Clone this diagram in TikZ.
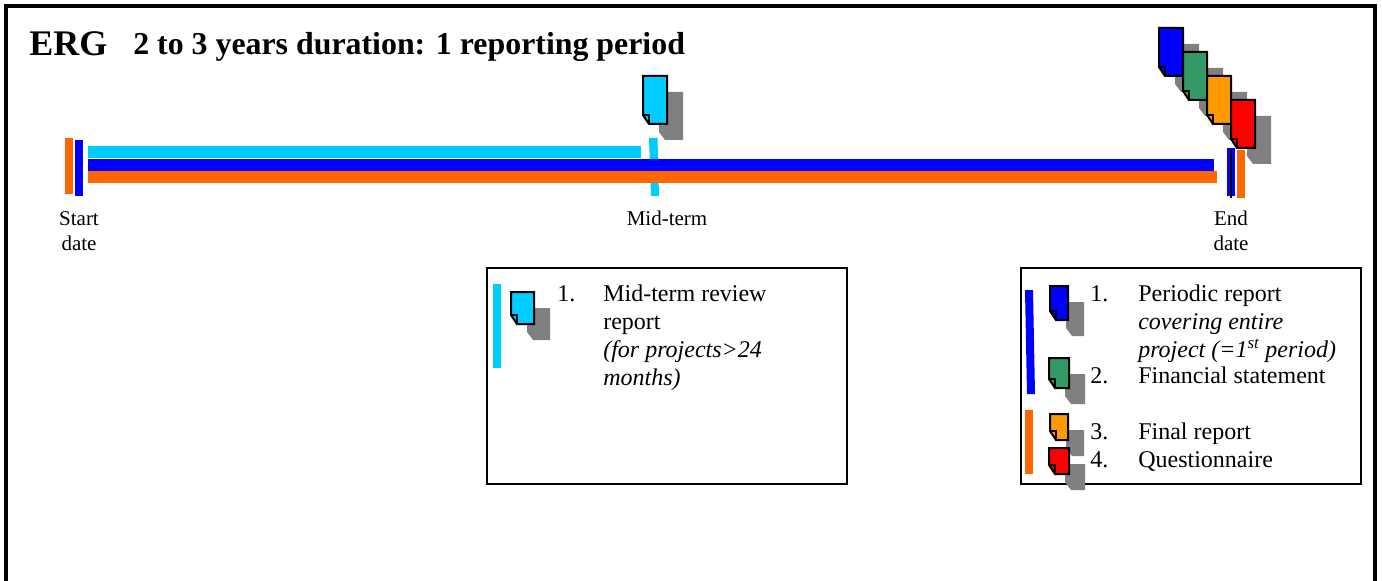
\documentclass[tikz,border=0pt]{standalone}
\usepackage{fontspec}
\setmainfont{Liberation Serif}
\definecolor{cyanbar}{HTML}{00CCFF}
\definecolor{bluebar}{HTML}{0000FF}
\definecolor{orangebar}{HTML}{FF6600}
\definecolor{docgreen}{HTML}{339966}
\definecolor{docorange}{HTML}{FF9900}
\definecolor{docred}{HTML}{FF0000}
\definecolor{docshadow}{HTML}{808080}
% icon: x, y, x2, y2, colour (px coordinates); shadow offset 16,16
\newcommand{\docicon}[5]{%
  \fill[docshadow] ({#1+16},{#2+16}) -- ({#3+16},{#2+16}) -- ({#3+16},{#4+16}) -- ({#1+22},{#4+16}) -- ({#1+16},{#4+8}) -- cycle;
  \docfront{#1}{#2}{#3}{#4}{#5}}
\newcommand{\docfront}[5]{%
  \filldraw[fill=#5,draw=black,line width=1.5pt,line join=miter] (#1,#2) -- (#3,#2) -- (#3,#4) -- ({#1+6},#4) -- (#1,{#4-9}) -- cycle;
  \draw[black,line width=1pt] (#1,{#4-9}) -- ({#1+6},{#4-9}) -- ({#1+6},#4);}
\newcommand{\barrect}[5]{\fill[#5] (#1,#2) rectangle (#3,#4);}
\tikzset{
  lab/.style={inner sep=0pt,anchor=base west,font=\fontsize{18}{18}\selectfont},
  datelab/.style={inner sep=0pt,align=center,font=\fontsize{15.75}{19}\selectfont},
  framebox/.style={draw=black,line width=1.5pt,fill=white,inner sep=0pt,outer sep=0pt,anchor=north west}
}
\begin{document}
\begin{tikzpicture}[x=0.75pt,y=-0.75pt]
\useasboundingbox (0,0) rectangle (1382,581);
\fill[white] (0,0) rectangle (1382,581);
\draw[black,line width=3pt] (6,6) rectangle (1375,600);
\node[inner sep=0pt,anchor=base west,font=\fontsize{27}{27}\selectfont\bfseries] (erg) at (29,56) {ERG};
\node[inner sep=0pt,anchor=base west,font=\fontsize{23.9}{27}\selectfont\bfseries] (title) at (133,55) {2 to 3 years duration: 1 reporting period};
% timeline
\barrect{65}{138}{73}{194}{orangebar}
\barrect{75}{140}{83}{196}{bluebar}
\fill[cyanbar] (649,138) -- (657.5,138) -- (659,196) -- (651,196) -- cycle;
\barrect{88}{146}{641}{158}{cyanbar}
\barrect{88}{159}{1214}{171}{bluebar}
\barrect{88}{171}{1217}{183}{orangebar}
\barrect{1227}{148}{1235}{196}{bluebar}
\barrect{1237}{150}{1245}{198}{orangebar}
\draw[black,line width=1pt] (1231,150) -- (1231,198);
\docicon{643}{76}{667}{124}{cyanbar}
\docicon{1159}{28}{1183}{76}{bluebar}
\docicon{1183}{52}{1207}{100}{docgreen}
\docicon{1207}{76}{1231}{124}{docorange}
\docicon{1231}{100}{1255}{148}{docred}
\node[datelab] (start) at (79,231) {Start\\date};
\node[datelab] (mid) at (667,218) {Mid-term};
\node[datelab] (end) at (1231,231) {End\\date};
% boxes
\node[framebox,minimum width=270pt,minimum height=162pt] (boxa) at (487,268) {};
\node[framebox,minimum width=255pt,minimum height=162pt] (boxb) at (1021,268) {};
% box a
\barrect{493}{284}{501}{368}{cyanbar}
\docicon{511}{292}{534}{324}{cyanbar}
\node[lab] at (557,301) {1.};
\node[lab] at (603,301) {Mid-term review};
\node[lab] at (603,329) {report};
\node[lab] at (603,357) {\itshape (for projects>24};
\node[lab] at (603,385) {\itshape months)};
% box b
\fill[bluebar] (1025,290) -- (1033,290) -- (1035,394) -- (1027,394) -- cycle;
\barrect{1025}{410}{1033}{474}{orangebar}
\docicon{1050}{286}{1068}{320}{bluebar}
\docicon{1049}{358}{1069}{388}{docgreen}
\docicon{1050}{414}{1068}{440}{docorange}
\docicon{1049}{448}{1069}{474}{docred}
\node[lab] at (1090,301) {1.};
\node[lab] at (1138,301) {Periodic report};
\node[lab] at (1138,329) {\itshape covering entire};
\node[lab] at (1138,357) {\itshape project (=1\textsuperscript{st} period)};
\node[lab] at (1090,383) {2.};
\node[lab] at (1138,383) {Financial statement};
\node[lab] at (1090,439) {3.};
\node[lab] at (1138,439) {Final report};
\node[lab] at (1090,467) {4.};
\node[lab] at (1138,467) {Questionnaire};
\end{tikzpicture}
\end{document}
